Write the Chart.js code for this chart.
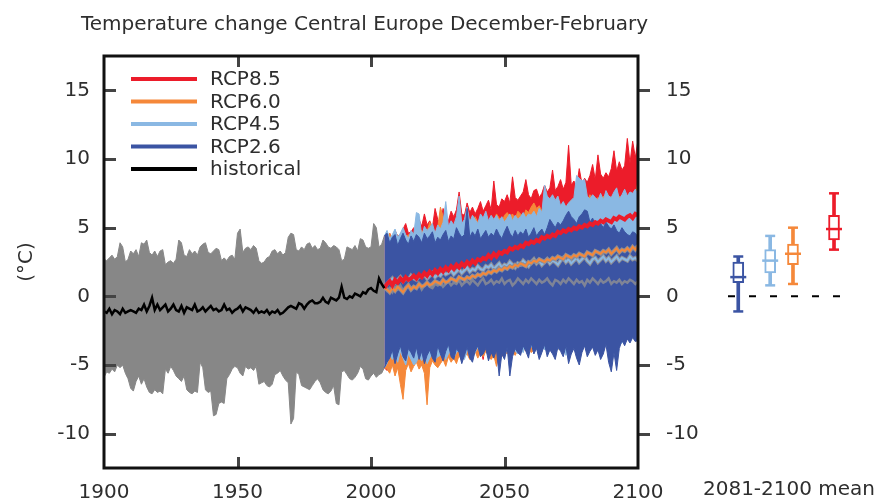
<!DOCTYPE html>
<html>
<head>
<meta charset="utf-8">
<script src="https://cdn.jsdelivr.net/npm/chart.js@4.4.0/dist/chart.umd.min.js"></script>
<style>
  html, body { margin: 0; padding: 0; background: #ffffff; }
  #wrap { position: relative; width: 879px; height: 502px; overflow: hidden; background: #fff; }
  #c1 { position: absolute; left: 0; top: 0; }
  #c2 { position: absolute; left: 690px; top: 0; }
</style>
</head>
<body>
<div id="wrap">
  <canvas id="c1" width="879" height="502"></canvas>
  <canvas id="c2" width="189" height="502"></canvas>
</div>
<script>
// ---------------- data ----------------
const titleText = 'Temperature change Central Europe December-February';
const yLabel = '(°C)';
const panelLabel = '2081-2100 mean';
const xTicks = [1900, 1950, 2000, 2050, 2100];
const yTicks = [-10, -5, 0, 5, 10, 15];
const histStart = 1900;
const futStart = 2006;

const histUpper = [
  2.7, 2.6, 2.8, 3.0, 2.7, 2.9,
  3.9, 3.6, 2.5, 2.7,
  3.3, 3.1, 3.4, 2.9,
  3.9, 3.8, 4.1, 3.2, 3.0, 3.3,
  2.9, 3.3, 3.4, 2.3, 2.5,
  2.6, 2.4, 2.7, 4.1, 3.9,
  3.0, 2.9, 3.4, 3.1, 3.3,
  3.0, 3.6, 3.8, 3.9, 3.2,
  3.1, 3.3, 3.5, 3.4, 2.6,
  2.8, 2.6, 2.9, 3.0, 2.7,
  4.6, 4.9, 3.2, 3.5, 3.6,
  3.4, 3.7, 3.5, 2.6, 2.4,
  2.5, 2.8, 2.9, 3.3, 3.4,
  3.1, 3.3, 3.0, 3.2, 4.3,
  4.6, 4.5, 3.4, 3.3, 3.6,
  3.4, 3.8, 3.9, 3.5, 3.7,
  3.4, 3.5, 4.1, 3.9, 3.6,
  3.5, 3.7, 3.6, 3.4, 2.6,
  2.7, 3.6, 3.5, 3.4, 3.7,
  3.3, 4.2, 4.1, 3.6, 3.5,
  3.6, 5.3, 5.0, 3.6, 3.8, 4.4
];
const histLower = [
  -5.9, -5.5, -5.6, -5.3, -5.5, -5.0,
  -5.2, -5.0, -5.6, -6.0,
  -6.7, -6.9, -6.2, -5.8,
  -6.4, -6.0, -6.6, -7.0, -7.1, -6.8,
  -7.0, -6.9, -7.1, -5.3, -5.6,
  -5.1, -5.4, -5.8, -6.0, -6.2,
  -5.8, -6.8, -7.0, -7.1, -6.9,
  -7.0, -4.8, -5.2, -6.8, -7.0,
  -6.9, -8.7, -8.6, -7.8, -7.7,
  -7.8, -6.0, -5.7, -5.3, -5.1,
  -5.2, -5.6, -5.8, -5.1, -5.3,
  -5.2, -5.4, -5.1, -6.4, -6.3,
  -6.2, -6.5, -6.6, -6.4, -5.7,
  -5.6, -5.4, -5.8, -6.1, -6.3,
  -9.3, -8.9, -5.5, -5.7, -6.5,
  -6.6, -6.7, -6.8, -6.5, -6.2,
  -6.0, -6.3, -6.8, -7.0, -7.1,
  -6.9, -6.5, -7.8, -7.9, -5.5,
  -5.4, -5.7, -6.0, -6.1, -5.9,
  -5.6, -5.1, -5.3, -6.0, -6.1,
  -5.8, -5.6, -5.9, -5.7, -5.6, -5.2
];
const histMean = [
  -1.1, -1.2, -0.9, -1.3, -1.0, -1.1, -1.3, -0.9, -1.2, -1.1,
  -1.0, -1.1, -1.2, -0.9, -1.0, -0.6, -1.1, -0.7, -0.1, -1.0,
  -0.6, -1.0, -0.8, -0.6, -1.1, -0.9, -0.6, -1.0, -1.1, -0.7,
  -1.2, -0.8, -0.9, -1.0, -0.6, -1.1, -1.0, -0.8, -1.1, -0.9,
  -0.7, -1.0, -0.9, -1.1, -1.0, -0.6, -1.0, -0.9, -1.2, -1.0,
  -0.9, -0.7, -1.1, -0.8, -0.9, -1.0, -1.2, -0.9, -1.2, -1.1,
  -1.2, -1.0, -1.3, -1.1, -1.2, -1.0, -1.3, -1.2, -1.0, -0.8,
  -0.7, -0.8, -0.9, -0.5, -0.6, -0.9, -0.6, -0.4, -0.3, -0.5,
  -0.5, -0.4, -0.1, -0.4, -0.5, -0.1, -0.2, -0.3, -0.1, 0.7,
  -0.1, -0.2, 0.0, -0.1, 0.2, 0.1, 0.0, 0.3, 0.2, 0.5,
  0.6, 0.4, 0.3, 1.3, 0.9, 0.6
];

// 2006-2100
const rcp26Upper = [
  4.6, 3.9, 4.3, 4.5, 3.7, 4.2, 4.6, 4.1, 3.8, 4.4,
  4.0, 4.5, 4.3, 3.9, 4.6, 4.2, 4.4, 4.7, 3.9, 4.3,
  4.1, 4.5, 4.8, 4.0, 4.4, 4.2, 5.0, 4.6, 4.3, 4.5,
  6.4, 4.3, 4.7, 4.4, 4.9, 4.2, 4.5, 4.8, 4.3, 4.6,
  4.4, 4.9, 4.5, 4.2, 4.7, 5.1, 4.6, 4.3, 4.8, 4.4,
  4.7, 4.5, 4.9, 4.3, 4.6, 5.0, 4.4, 4.7, 4.9, 4.5,
  5.0, 5.6, 5.3, 5.0, 5.4, 5.2, 5.5, 5.9, 6.2, 5.8,
  5.6, 5.3, 5.8, 6.0, 6.3, 6.2, 5.4, 5.7, 5.2, 5.5,
  5.3, 5.0, 5.4, 5.1, 4.9, 5.2, 4.8, 4.6, 5.0, 4.7,
  4.5, 4.4, 4.7, 4.6, 4.3
];
const rcp26Lower = [
  -4.8, -4.5, -3.9, -4.9, -4.2, -3.6, -4.4, -4.7, -3.8, -4.1,
  -4.5, -3.7, -4.6, -4.0, -4.9, -4.3, -3.9, -4.5, -4.8, -3.6,
  -4.2, -4.7, -4.0, -3.5, -4.4, -4.6, -3.8, -4.1, -4.9, -4.3,
  -3.7, -4.5, -4.8, -4.0, -3.6, -4.4, -4.2, -3.8, -4.7, -4.1,
  -4.5, -3.9, -5.8, -4.2, -4.6, -3.7, -5.8, -4.4, -3.8, -4.1,
  -4.3, -3.6, -4.0, -4.5, -3.4, -4.2, -3.8, -4.6, -4.1, -3.5,
  -4.4, -3.9, -4.2, -4.6, -3.7, -4.0, -4.4, -3.6, -4.9, -4.2,
  -3.8, -4.5, -5.0, -4.1, -3.6, -4.4, -4.0, -3.7, -4.3, -3.9,
  -4.6, -4.2, -3.5, -4.8, -5.5, -4.1, -5.4, -3.8, -3.2, -3.6,
  -3.1, -3.4, -3.0, -3.3, -3.2
];
const rcp45Upper = [
  4.8, 4.2, 4.5, 4.9, 4.3, 4.6, 5.0, 4.5, 4.2, 4.8,
  4.5, 6.1, 6.0, 4.4, 5.1, 4.8, 5.0, 5.3, 4.6, 5.2,
  4.9, 5.4, 6.9, 5.1, 5.5, 5.2, 5.8, 7.3, 5.3, 5.6,
  6.5, 5.4, 5.9, 5.6, 5.3, 6.0, 5.7, 6.2, 5.5, 5.9,
  5.6, 5.9, 5.5, 5.8, 5.4, 5.7, 6.0, 5.5, 5.9, 5.6,
  5.8, 6.1, 5.7, 6.0, 5.9, 6.2, 5.8, 6.4, 6.1, 8.1,
  7.3, 7.1, 7.4, 7.0, 7.3, 6.6, 6.9, 6.5, 6.8, 7.0,
  7.2, 8.8, 8.6, 8.4, 8.5, 7.3, 7.1, 7.4, 7.2, 7.0,
  7.5, 7.0, 7.7, 7.3, 7.2, 7.6, 7.9, 7.1, 7.4, 7.8,
  7.3, 7.6, 7.5, 7.8, 7.4
];
const rcp45Lower = [
  -4.9, -4.2, -4.6, -4.3, -4.8, -4.0, -4.5, -5.0, -4.2, -4.6,
  -5.0, -4.8, -4.3, -4.7, -4.1, -4.9, -4.5, -4.2, -4.6, -4.4,
  -4.3, -4.0, -4.6, -4.2, -4.0, -4.5, -4.1, -3.9, -4.4, -4.6,
  -4.0, -3.8, -4.3, -4.1, -3.7, -4.2, -4.0, -3.6, -4.1, -3.9,
  -4.2, -3.8, -4.0, -3.6, -4.3, -3.9, -4.1, -3.7, -4.0, -4.2,
  -3.8, -4.1, -3.5, -3.9, -3.6, -4.0, -3.7, -4.2, -3.6, -3.9,
  -3.5, -3.8, -4.1, -3.6, -3.9, -3.4, -3.7, -4.3, -3.8, -3.5,
  -3.6, -4.0, -3.5, -3.8, -3.3, -3.7, -3.9, -3.4, -3.6, -3.8,
  -3.4, -3.7, -3.3, -3.6, -3.9, -3.5, -3.2, -3.6, -3.4, -3.1,
  -3.0, -3.3, -2.9, -3.2, -3.0
];
const rcp60Upper = [
  4.3, 4.6, 4.0, 4.7, 4.4, 4.1, 4.9, 4.3, 4.5, 4.0,
  4.6, 4.4, 4.2, 4.8, 4.5, 4.7, 5.4, 4.9, 4.6, 5.0,
  6.5, 5.8, 5.1, 4.8, 5.3, 5.0, 5.4, 5.2, 4.9, 5.5,
  5.3, 5.6, 5.2, 5.8, 5.4, 5.1, 5.6, 5.9, 5.3, 5.7,
  5.5, 6.0, 5.7, 5.4, 5.9, 6.1, 5.8, 6.0, 5.6, 6.2,
  6.0, 5.7, 6.3, 6.1, 6.5, 6.8, 6.4, 6.6, 6.2, 6.5,
  6.3, 6.7, 6.4, 6.9, 6.6, 6.2, 6.8, 6.5, 6.7, 7.0,
  6.6, 6.9, 7.1, 6.8, 7.2, 6.7, 7.4, 7.0, 6.8, 7.2,
  7.0, 7.3, 6.9, 7.0, 7.2, 7.4, 7.0, 7.3, 6.9, 7.1,
  7.3, 7.0, 7.5, 7.2, 8.4
];
const rcp60Lower = [
  -5.3, -5.6, -5.0, -5.8, -5.2, -6.4, -7.5, -5.4, -4.9, -5.5,
  -5.1, -4.8, -5.3, -5.0, -5.6, -7.9, -5.2, -4.7, -5.0, -5.2,
  -4.9, -4.6, -5.1, -4.4, -4.8, -4.5, -4.9, -4.3, -4.7, -4.4,
  -4.2, -4.6, -4.3, -4.0, -4.5, -4.1, -4.4, -4.0, -4.3, -4.6,
  -4.3, -5.1, -4.1, -4.4, -3.9, -4.2, -3.8, -4.0, -4.3, -3.9,
  -4.1, -3.8, -4.0, -3.7, -4.1, -3.9, -3.6, -4.0, -3.8, -3.5,
  -3.7, -3.9, -3.4, -3.6, -3.9, -3.5, -3.8, -3.5, -3.7, -3.3,
  -3.5, -3.8, -3.4, -3.6, -3.2, -3.5, -3.7, -3.3, -3.5, -3.6,
  -3.3, -3.6, -3.2, -3.4, -3.7, -3.3, -3.1, -3.5, -3.2, -3.0,
  -2.9, -3.2, -2.8, -3.1, -2.9
];
const rcp85Upper = [
  4.2, 4.6, 4.0, 4.8, 4.4, 4.5, 4.9, 5.3, 4.6, 4.7,
  5.0, 4.8, 5.6, 5.1, 6.0, 5.2, 5.5, 5.0, 6.4, 5.6,
  5.3, 6.4, 5.7, 5.5, 6.2, 5.8, 6.3, 7.6, 6.0, 5.9,
  6.8, 6.1, 6.5, 6.0, 6.4, 6.9, 6.2, 6.6, 7.0, 6.3,
  8.4, 6.7, 6.5, 7.1, 6.9, 7.4, 6.8, 8.7, 7.2, 7.0,
  7.3, 7.6, 8.5, 7.4, 7.1, 7.7, 7.8, 7.2, 7.5, 8.1,
  7.6, 7.9, 9.2, 7.7, 8.0, 8.5, 7.8, 8.3, 11.0, 8.1,
  8.4, 8.0, 9.3, 8.2, 8.6, 8.3, 8.8, 9.6, 8.5, 10.3,
  8.9, 8.6, 9.0, 8.7, 9.3, 10.6, 9.1, 9.8, 9.2, 9.5,
  11.5, 9.7, 11.3, 10.1, 11.4
];
const rcp85Lower = [
  -5.4, -4.6, -4.2, -4.5, -4.0, -4.8, -4.3, -4.1, -4.6, -4.4,
  -4.2, -4.8, -4.5, -4.1, -4.4, -4.0, -4.3, -4.6, -3.9, -4.2,
  -4.6, -4.1, -3.9, -4.3, -4.0, -3.7, -4.5, -4.2, -3.8, -4.0,
  -3.6, -4.1, -3.8, -3.5, -4.0, -3.7, -4.6, -3.4, -3.9, -3.6,
  -3.5, -3.8, -3.4, -3.7, -3.3, -3.6, -3.9, -3.2, -3.5, -3.4,
  -3.1, -3.4, -3.0, -3.3, -2.9, -3.2, -3.5, -2.8, -3.1, -3.0,
  -2.8, -3.1, -2.7, -3.0, -2.6, -2.9, -3.2, -2.7, -3.9, -2.8,
  -2.5, -2.8, -2.4, -2.7, -2.3, -2.6, -2.9, -2.4, -2.6, -2.2,
  -2.4, -2.1, -2.5, -2.3, -2.0, -2.4, -2.2, -1.9, -2.3, -2.1,
  -1.8, -2.2, -1.9, -2.0, -1.7
];
const rcp26Mean = [
  0.4, 0.6, 0.3, 0.7, 0.5, 0.8, 0.4, 0.6, 0.9, 0.5,
  0.7, 0.6, 0.9, 0.5, 0.8, 1.0, 0.7, 0.6, 0.9, 0.8,
  1.0, 0.7, 0.9, 1.1, 0.8, 1.0, 0.9, 1.2, 0.8, 1.0,
  1.1, 0.9, 1.2, 1.0, 0.8, 1.1, 1.3, 0.9, 1.0, 1.2,
  0.9, 1.1, 1.0, 1.3, 0.9, 1.1, 1.2, 0.8, 1.0, 1.3,
  1.1, 0.9, 1.2, 1.0, 1.3, 1.1, 0.9, 1.2, 1.0, 1.1,
  1.3, 1.0, 0.8, 1.2, 1.1, 0.9, 1.2, 1.0, 1.3, 1.1,
  0.9, 1.2, 1.0, 1.1, 0.8, 1.2, 1.0, 1.3, 1.1, 0.9,
  1.2, 1.0, 1.1, 1.3, 0.9, 1.1, 1.0, 1.2, 0.9, 1.1,
  1.0, 1.2, 1.1, 0.9, 1.1
];
const rcp45Mean = [
  0.9, 1.1, 1.3, 1.0, 1.2, 1.4, 1.1, 1.3, 1.2, 1.5,
  1.3, 1.2, 1.5, 1.4, 1.6, 1.3, 1.5, 1.7, 1.4, 1.6,
  1.5, 1.8, 1.6, 1.7, 1.9, 1.6, 1.8, 2.0, 1.7, 1.9,
  2.1, 1.8, 2.0, 1.9, 2.2, 2.0, 1.9, 2.2, 2.1, 2.3,
  2.0, 2.2, 2.4, 2.1, 2.3, 2.2, 2.5, 2.3, 2.1, 2.4,
  2.3, 2.6, 2.4, 2.2, 2.5, 2.7, 2.4, 2.6, 2.3, 2.5,
  2.7, 2.4, 2.6, 2.5, 2.3, 2.6, 2.8, 2.5, 2.7, 2.4,
  2.6, 2.8, 2.5, 2.7, 2.9, 2.6, 2.4, 2.7, 2.8, 2.5,
  2.7, 2.9, 2.6, 2.8, 2.5, 2.7, 2.9, 2.6, 2.8, 2.7,
  2.6, 2.9, 2.7, 2.8, 2.6
];
const rcp60Mean = [
  0.5, 0.3, 0.6, 0.4, 0.7, 0.5, 0.3, 0.6, 0.8, 0.5,
  0.7, 0.6, 0.9, 0.7, 0.8, 1.0, 0.8, 0.9, 1.1, 1.0,
  0.9, 1.2, 1.0, 1.1, 1.3, 1.2, 1.1, 1.4, 1.3, 1.2,
  1.4, 1.3, 1.5, 1.4, 1.6, 1.5, 1.7, 1.6, 1.8, 1.7,
  1.9, 1.8, 2.0, 1.9, 2.1, 2.0, 2.2, 2.1, 2.3, 2.2,
  2.4, 2.3, 2.2, 2.5, 2.4, 2.6, 2.5, 2.7, 2.6, 2.5,
  2.7, 2.6, 2.8, 2.7, 2.9, 2.8, 2.7, 3.0, 2.9, 2.8,
  3.0, 2.9, 3.1, 3.0, 2.9, 3.2, 3.1, 3.0, 3.3, 3.2,
  3.1, 3.3, 3.2, 3.4, 3.1, 3.3, 3.5, 3.2, 3.4, 3.3,
  3.5, 3.3, 3.6, 3.4, 3.7
];
const rcp85Mean = [
  0.9, 1.1, 0.8, 1.2, 1.0, 1.3, 1.1, 1.4, 1.2, 1.3,
  1.5, 1.3, 1.6, 1.4, 1.7, 1.5, 1.8, 1.6, 1.9, 1.7,
  2.0, 1.8, 2.1, 1.9, 2.2, 2.0, 2.3, 2.1, 2.4, 2.2,
  2.5, 2.3, 2.6, 2.4, 2.7, 2.6, 2.8, 2.7, 3.0, 2.8,
  3.1, 2.9, 3.2, 3.1, 3.3, 3.2, 3.5, 3.4, 3.6, 3.5,
  3.7, 3.6, 3.9, 3.8, 4.0, 3.9, 4.1, 4.0, 4.3, 4.2,
  4.4, 4.3, 4.5, 4.4, 4.7, 4.6, 4.8, 4.7, 4.9, 4.8,
  5.0, 4.9, 5.1, 5.0, 5.2, 5.1, 5.3, 5.2, 5.4, 5.3,
  5.5, 5.4, 5.6, 5.5, 5.4, 5.7, 5.6, 5.8, 5.7, 5.6,
  5.8, 5.9, 5.7, 6.0, 5.9
];

// 2081-2100 mean boxes: [min, q1, median, q3, max]
const boxNames = ['RCP2.6', 'RCP4.5', 'RCP6.0', 'RCP8.5'];
const boxX = [0.09, 0.37, 0.57, 0.93];
const boxMin = [-1.1, 0.8, 0.9, 3.4];
const boxQ1 = [1.0, 1.7, 2.3, 4.1];
const boxMed = [1.4, 2.6, 3.1, 4.9];
const boxQ3 = [2.5, 3.4, 3.8, 5.9];
const boxMax = [2.9, 4.4, 5.0, 7.5];

const legendNames = ['RCP8.5', 'RCP6.0', 'RCP4.5', 'RCP2.6', 'historical'];

// ---------------- styles ----------------
const C = {
  gray: '#878787', blue: '#3b54a3', lblue: '#8ab8e3', orange: '#f5883a', red: '#ec1c2a',
  mean26: '#7f8496', meanEdge: '#8e8e96', black: '#000000', text: '#2e2e2e'
};
const legendColors = [C.red, C.orange, C.lblue, C.blue, C.black];
const boxColors = [C.blue, C.lblue, C.orange, C.red];
const FONT = 'DejaVu Sans';
Chart.defaults.font.family = FONT;
Chart.defaults.font.size = 20;
Chart.defaults.color = C.text;

function histPts(arr) { return arr.map((v, i) => ({ x: histStart + i, y: v })); }
function futPts(arr, join) {
  const pts = arr.map((v, i) => ({ x: futStart + i, y: v }));
  pts.unshift({ x: histStart + join.length - 1, y: join[join.length - 1] });
  return pts;
}
function band(label, up, low, color, order, joinUp, joinLow) {
  return [
    { label: label, data: joinUp ? futPts(up, joinUp) : histPts(up), borderColor: color, backgroundColor: color,
      borderWidth: 1, fill: '+1', order: order },
    { label: label + ' min', data: joinLow ? futPts(low, joinLow) : histPts(low), borderColor: color,
      backgroundColor: color, borderWidth: 1, fill: false, order: order }
  ];
}
function meanLine(label, arr, color, width, order) {
  return { label: label, data: futPts(arr, histMean), borderColor: color, borderWidth: width, fill: false, order: order };
}

const datasets1 = [
  { label: 'historical', data: histPts(histMean), borderColor: C.black, borderWidth: 2.5, fill: false, order: 0 },
  meanLine('RCP8.5 mean', rcp85Mean, C.red, 4, 1),
  meanLine('RCP6.0 mean', rcp60Mean, C.orange, 2, 2),
  meanLine('RCP6.0 mean edge', rcp60Mean, C.meanEdge, 4, 3),
  meanLine('RCP4.5 mean', rcp45Mean, C.lblue, 2, 4),
  meanLine('RCP4.5 mean edge', rcp45Mean, C.meanEdge, 4, 5),
  meanLine('RCP2.6 mean', rcp26Mean, C.mean26, 2.5, 6),
  ...band('RCP2.6', rcp26Upper, rcp26Lower, C.blue, 10, histUpper, histLower),
  ...band('RCP4.5', rcp45Upper, rcp45Lower, C.lblue, 11, histUpper, histLower),
  ...band('RCP6.0', rcp60Upper, rcp60Lower, C.orange, 12, histUpper, histLower),
  ...band('RCP8.5', rcp85Upper, rcp85Lower, C.red, 13, histUpper, histLower),
  ...band('historical range', histUpper, histLower, C.gray, 14)
];

const framePlugin = {
  id: 'frame',
  afterDatasetsDraw(chart) {
    const ctx = chart.ctx;
    const a = chart.chartArea;
    const xs = chart.scales.x, ys = chart.scales.y;
    ctx.save();
    ctx.strokeStyle = '#444';
    ctx.lineWidth = 3;
    ctx.beginPath();
    yTicks.forEach(v => {
      const py = Math.round(ys.getPixelForValue(v)) + 0.5;
      ctx.moveTo(a.left, py); ctx.lineTo(a.left + 12, py);
      ctx.moveTo(a.right, py); ctx.lineTo(a.right + 12, py);
    });
    xTicks.slice(1, -1).forEach(v => {
      const px = Math.round(xs.getPixelForValue(v)) + 0.5;
      ctx.moveTo(px, a.top); ctx.lineTo(px, a.top + 11);
      ctx.moveTo(px, a.bottom); ctx.lineTo(px, a.bottom - 11);
    });
    ctx.stroke();
    ctx.strokeStyle = '#111';
    ctx.lineWidth = 3;
    ctx.strokeRect(a.left, a.top, a.right - a.left, a.bottom - a.top);
    ctx.restore();
  },
  afterDraw(chart) {
    const ctx = chart.ctx;
    ctx.save();
    ctx.fillStyle = C.text;
    ctx.font = '20px "' + FONT + '"';
    ctx.textAlign = 'left';
    ctx.textBaseline = 'alphabetic';
    ctx.fillText(titleText, 81, 30);
    ctx.save();
    ctx.translate(27, 262);
    ctx.rotate(-Math.PI / 2);
    ctx.textAlign = 'center';
    ctx.textBaseline = 'middle';
    ctx.fillText(yLabel, 0, 0);
    ctx.restore();
    legendNames.forEach((n, i) => {
      const y = 79 + i * 22.5;
      ctx.strokeStyle = legendColors[i];
      ctx.lineWidth = 4;
      ctx.beginPath();
      ctx.moveTo(131, y); ctx.lineTo(197, y);
      ctx.stroke();
      ctx.fillStyle = C.text;
      ctx.textAlign = 'left';
      ctx.textBaseline = 'middle';
      ctx.fillText(n, 210, y + 1);
    });
    ctx.restore();
  }
};

const tickFont = { family: FONT, size: 20 };
function noVertPad(s) { s.paddingTop = 0; s.paddingBottom = 0; }
new Chart(document.getElementById('c1'), {
  type: 'line',
  data: { datasets: datasets1 },
  options: {
    responsive: false, animation: false, devicePixelRatio: 1,
    layout: { autoPadding: false, padding: { top: 56, left: 0, right: 0, bottom: 0 } },
    elements: { point: { radius: 0 }, line: { tension: 0 } },
    plugins: { legend: { display: false }, tooltip: { enabled: false }, title: { display: false } },
    scales: {
      x: {
        type: 'linear', position: 'bottom', min: 1900, max: 2100,
        grid: { display: false, drawTicks: false }, border: { display: false },
        afterBuildTicks: s => { s.ticks = xTicks.map(v => ({ value: v })); },
        ticks: { font: tickFont, color: C.text, padding: 13, maxRotation: 0, autoSkip: false, callback: v => String(v) },
        afterFit: s => { s.height = 34; }
      },
      y: {
        type: 'linear', position: 'left', min: -12.5, max: 17.5,
        grid: { display: false, drawTicks: false }, border: { display: false },
        afterBuildTicks: s => { s.ticks = yTicks.map(v => ({ value: v })); },
        ticks: { font: tickFont, color: C.text, padding: 14, callback: v => String(v) },
        afterFit: s => { s.width = 104; noVertPad(s); }
      },
      y2: {
        type: 'linear', position: 'right', min: -12.5, max: 17.5,
        grid: { display: false, drawTicks: false }, border: { display: false },
        afterBuildTicks: s => { s.ticks = yTicks.map(v => ({ value: v })); },
        ticks: { font: tickFont, color: C.text, padding: 28, callback: v => String(v) },
        afterFit: s => { s.width = 241; noVertPad(s); }
      }
    }
  },
  plugins: [framePlugin]
});

// ---------------- right panel ----------------
const capPts = [], capCols = [];
boxX.forEach((x, i) => {
  capPts.push({ x: x, y: boxMin[i] }); capCols.push(boxColors[i]);
  capPts.push({ x: x, y: boxMax[i] }); capCols.push(boxColors[i]);
});
const panelLabelPlugin = {
  id: 'panelLabel',
  afterDraw(chart) {
    const ctx = chart.ctx;
    const a = chart.chartArea;
    ctx.save();
    ctx.fillStyle = C.text;
    ctx.font = '20px "' + FONT + '"';
    ctx.textAlign = 'center';
    ctx.textBaseline = 'middle';
    ctx.fillText(panelLabel, (a.left + a.right) / 2 + 4, 490);
    ctx.restore();
  }
};
new Chart(document.getElementById('c2'), {
  type: 'bar',
  data: {
    datasets: [
      { type: 'scatter', label: 'median', data: boxX.map((x, i) => ({ x: x, y: boxMed[i] })),
        pointStyle: 'line', pointRadius: 8, pointBorderWidth: 2.5, pointBorderColor: boxColors, order: 0 },
      { type: 'scatter', label: 'caps', data: capPts,
        pointStyle: 'line', pointRadius: 5, pointBorderWidth: 2.5, pointBorderColor: capCols, order: 1 },
      { type: 'bar', label: 'box', data: boxX.map((x, i) => ({ x: x, y: [boxQ1[i], boxQ3[i]] })),
        backgroundColor: '#ffffff', borderColor: boxColors, borderWidth: 2, borderSkipped: false,
        barThickness: 11, grouped: false, order: 2 },
      { type: 'bar', label: 'whisker', data: boxX.map((x, i) => ({ x: x, y: [boxMin[i], boxMax[i]] })),
        backgroundColor: boxColors, borderWidth: 0, barThickness: 3, grouped: false, order: 3 },
      { type: 'line', label: 'zero', data: [{ x: 0, y: 0 }, { x: 1, y: 0 }],
        borderColor: '#000', borderWidth: 2, borderDash: [7, 14], pointRadius: 0, fill: false, order: 4 }
    ]
  },
  options: {
    responsive: false, animation: false, devicePixelRatio: 1,
    layout: { autoPadding: false, padding: { top: 56, left: 38, right: 37, bottom: 0 } },
    plugins: { legend: { display: false }, tooltip: { enabled: false } },
    scales: {
      x: {
        type: 'linear', min: 0, max: 1, offset: false,
        grid: { display: false, drawTicks: false }, border: { display: false },
        ticks: { display: false },
        afterFit: s => { s.height = 34; }
      },
      y: { type: 'linear', min: -12.5, max: 17.5, display: false }
    }
  },
  plugins: [panelLabelPlugin]
});
</script>
</body>
</html>
